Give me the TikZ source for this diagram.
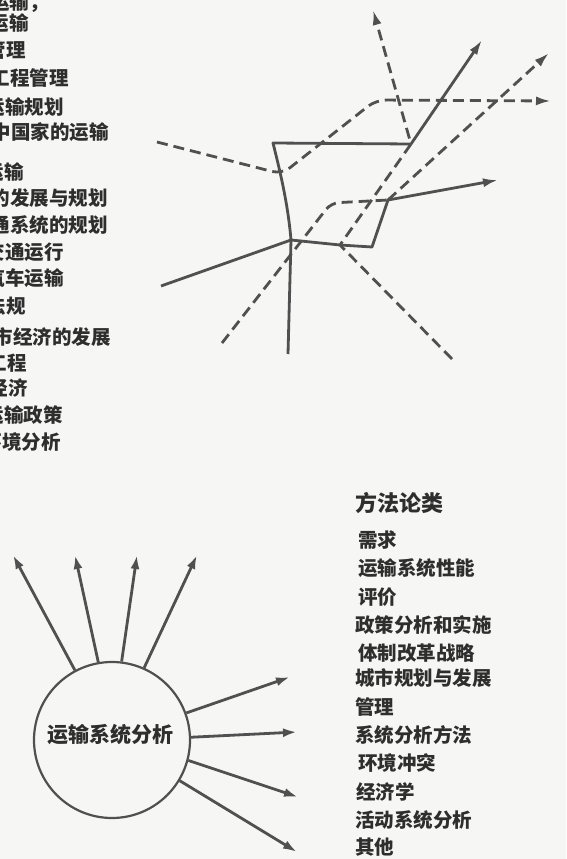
\documentclass[tikz,border=0pt]{standalone}
\usepackage{fontspec}
\newfontfamily\cjk{Noto Sans CJK SC}
\usetikzlibrary{arrows.meta}
\definecolor{ink}{HTML}{505050}
\definecolor{txt}{HTML}{2E2E2E}
\definecolor{paper}{HTML}{F6F6F4}
\tikzset{
  lt/.style={font=\cjk\bfseries\fontsize{19.5}{20}\selectfont, text=txt, inner sep=0pt, anchor=base east},
  rt/.style={font=\cjk\bfseries\fontsize{19.5}{20}\selectfont, text=txt, inner sep=0pt, anchor=base west},
  hd/.style={font=\cjk\bfseries\fontsize{22}{22}\selectfont, text=txt, inner sep=0pt, anchor=base west},
  sol/.style={draw=ink, line width=2.8pt, line join=round},
  dsh/.style={sol, dash pattern=on 11pt off 6pt},
  tip/.style={-{Latex[length=15pt,width=9pt]}},
  ctip/.style={-{Latex[length=14pt,width=9pt]}}
}
\begin{document}
\begin{tikzpicture}[x=1pt,y=-1pt]
\useasboundingbox (0,0) rectangle (566,859);
\fill[paper] (0,0) rectangle (566,859);
\clip (0,0) rectangle (566,859);

% left column (cut at the left edge, as in the reference)
\node[lt] (l1)  at (49,9.5)    {城市运输，};
\node[lt] (l2)  at (29,30.5)   {城际运输};
\node[lt] (l3)  at (26,57.5)   {运输管理};
\node[lt] (l4)  at (69,85.5)   {交通工程管理};
\node[lt] (l5)  at (64,114.5)  {区域运输规划};
\node[lt] (l6)  at (109,139.5) {发展中国家的运输};
\node[lt] (l7)  at (24,179.5)  {城市运输};
\node[lt] (l8)  at (108,205.5) {城市的发展与规划};
\node[lt] (l9)  at (108,232.5) {交通系统的规划};
\node[lt] (l10) at (64,259.5)  {交通运行};
\node[lt] (l11) at (64,285.5)  {汽车运输};
\node[lt] (l12) at (26,313.5)  {交通法规};
\node[lt] (l13) at (111,344.5) {城市经济的发展};
\node[lt] (l14) at (27,370.5)  {交通工程};
\node[lt] (l15) at (28,395.5)  {运输经济};
\node[lt] (l16) at (63,422.5)  {运输政策};
\node[lt] (l17) at (61,449.5)  {环境分析};

% network
\coordinate (A) at (273,143);
\coordinate (B) at (411,144);
\coordinate (C) at (291,240);
\coordinate (D) at (340,245);
\coordinate (E) at (372,247);
\coordinate (F) at (388,200);
\coordinate (tB) at (482,40);
\coordinate (tF) at (498,180);
\coordinate (Ls) at (161,286);
\coordinate (Cb) at (288,354);
\coordinate (dL) at (157,142);
\coordinate (dK1) at (282,174);
\coordinate (dK2) at (376,100);
\coordinate (tH) at (551,101);
\coordinate (tT) at (373,10);
\coordinate (dBR) at (452,359);
\coordinate (tD) at (549,53);
\coordinate (dBL) at (222,343);
\coordinate (dK3) at (331,203);

\draw[sol,tip] (C) -- (D) -- (E) -- (F) -- (tF);
\draw[sol,tip] (C) .. controls (288,205) and (281,175) .. (A) -- (B) -- (tB);
\draw[sol] (Ls) -- (C) -- (Cb);
\draw[dsh,tip,rounded corners=10pt] (dL) -- (dK1) -- (dK2) -- (tH);
\draw[dsh,tip] (dBR) -- (D) -- (B) -- (tT);
\draw[dsh,tip] (F) -- (tD);
\draw[dsh,rounded corners=8pt] (dBL) -- (dK3) -- (F);

% circle with arrows
\node[circle, draw=ink, line width=2.2pt, minimum size=156pt, inner sep=0pt] (c) at (112,740) {};
\node[font=\cjk\bfseries\fontsize{21}{21}\selectfont, text=txt, inner sep=0pt] (lab) at (110,735) {运输系统分析};
\coordinate (t1) at (13,555);
\coordinate (t2) at (75,555);
\coordinate (t3) at (137,555);
\coordinate (t4) at (197,555);
\coordinate (t5) at (290,677);
\coordinate (t6) at (297,732);
\coordinate (t7) at (298,797);
\coordinate (t8) at (297,852);
\draw[sol,ctip] (c.118) -- (t1);
\draw[sol,ctip] (c.100) -- (t2);
\draw[sol,ctip] (c.83) -- (t3);
\draw[sol,ctip] (c.66) -- (t4);
\draw[sol,ctip] (c.20) -- (t5);
\draw[sol,ctip] (c.2) -- (t6);
\draw[sol,ctip] (c.-15) -- (t7);
\draw[sol,ctip] (c.-31) -- (t8);

% right list
\node[hd] (h)  at (355,511) {方法论类};
\node[rt] (r1)  at (358,547) {需求};
\node[rt] (r2)  at (358,575) {运输系统性能};
\node[rt] (r3)  at (358,604) {评价};
\node[rt] (r4)  at (355,632) {政策分析和实施};
\node[rt] (r5)  at (358,660) {体制改革战略};
\node[rt] (r6)  at (355,685) {城市规划与发展};
\node[rt] (r7)  at (355,714) {管理};
\node[rt] (r8)  at (355,742) {系统分析方法};
\node[rt] (r9)  at (358,770) {环境冲突};
\node[rt] (r10) at (356,799) {经济学};
\node[rt] (r11) at (355,827) {活动系统分析};
\node[rt] (r12) at (355,854) {其他};
\end{tikzpicture}
\end{document}
